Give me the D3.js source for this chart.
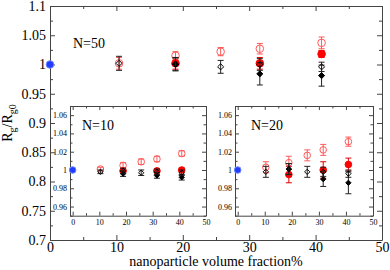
<!DOCTYPE html>
<html>
<head>
<meta charset="utf-8">
<script src="https://cdn.jsdelivr.net/npm/d3@7"></script>
<style>
  body { margin: 0; background: #fff; }
  svg { display: block; font-family: "Liberation Serif", "Times New Roman", serif; }
</style>
</head>
<body>
<svg width="390" height="270"></svg>
<script>
// ---- data ----
var openX   = [10.4, 18.9, 25.7, 31.6, 40.9];
var filledX = [18.9, 31.6, 40.9];

// N=50 (main panel)
var openBlack50   = [1.002, 1.001, 0.996, 1.000, 0.996];
var openBlack50E  = [0.012, 0.011, 0.011, 0.010, 0.008];
var filledBlack50 = [1.000, 0.984, 0.981];
var filledBlack50E= [0.011, 0.019, 0.018];
var openRed50     = [1.002, 1.015, 1.022, 1.027, 1.037];
var openRed50E    = [0.010, 0.007, 0.007, 0.009, 0.010];
var filledRed50   = [1.002, 1.002, 1.018];
var filledRed50E  = [0.010, 0.010, 0.006];

// N=10 inset
var openBlack10   = [0.998, 0.999, 0.997, 0.998, 0.997];
var openBlack10E  = [0.002, 0.003, 0.003, 0.003, 0.003];
var filledBlack10 = [0.996, 0.994, 0.992];
var filledBlack10E= [0.003, 0.003, 0.003];
var openRed10     = [1.001, 1.005, 1.009, 1.012, 1.018];
var openRed10E    = [0.002, 0.003, 0.003, 0.003, 0.003];
var filledRed10   = [0.999, 0.999, 1.000];
var filledRed10E  = [0.002, 0.002, 0.002];

// N=20 inset
var openBlack20   = [0.998, 1.001, 0.998, 0.998, 0.996];
var openBlack20E  = [0.006, 0.006, 0.006, 0.005, 0.004];
var filledBlack20 = [1.001, 0.990, 0.986];
var filledBlack20E= [0.006, 0.008, 0.012];
var openRed20     = [1.003, 1.008, 1.016, 1.022, 1.031];
var openRed20E    = [0.006, 0.007, 0.006, 0.006, 0.005];
var filledRed20   = [0.995, 1.000, 1.006];
var filledRed20E  = [0.009, 0.009, 0.007];

var pureX = [0], pureY = [1.0], pureE = [0.002];

var mainXTicks = [0, 10, 20, 30, 40, 50];
var mainYTicks = [0.7, 0.75, 0.8, 0.85, 0.9, 0.95, 1, 1.05, 1.1];
var insetXTicks = [0, 10, 20, 30, 40, 50];
var insetYTicks = [0.96, 0.98, 1, 1.02, 1.04, 1.06];

var svg = d3.select("svg");
var frameColor = "#444";
var fmt = function(d) { return String(+d.toFixed(2)); };

function panel(o) {
  var x = d3.scaleLinear().domain(o.xDomain).range([o.left, o.right]);
  var y = d3.scaleLinear().domain(o.yDomain).range([o.bottom, o.top]);
  var g = svg.append("g");
  g.append("rect").attr("x", o.left).attr("y", o.top)
    .attr("width", o.right - o.left).attr("height", o.bottom - o.top)
    .attr("fill", "#fff");

  function ax(gen, scale, vals, len, tr, labels, pad) {
    var a = g.append("g").attr("transform", tr)
      .call(gen(scale).tickValues(vals).tickSizeInner(-len).tickSizeOuter(0)
        .tickPadding(pad || 3).tickFormat(labels ? fmt : ""));
    a.selectAll("path,line").attr("stroke", frameColor);
    a.selectAll("text").attr("font-size", o.fontSize).attr("fill", "#000");
    a.attr("font-family", null);
    return a;
  }
  // bottom / top
  ax(d3.axisBottom, x, o.xTicks, o.major, "translate(0," + o.bottom + ")", true, o.xPad);
  ax(d3.axisBottom, x, o.xMinor, o.minor, "translate(0," + o.bottom + ")", false).select(".domain").remove();
  ax(d3.axisTop, x, o.xTicks, o.major, "translate(0," + o.top + ")", false);
  ax(d3.axisTop, x, o.xMinor, o.minor, "translate(0," + o.top + ")", false).select(".domain").remove();
  // left / right
  ax(d3.axisLeft, y, o.yTicks, o.major, "translate(" + o.left + ",0)", true, o.yPad);
  ax(d3.axisLeft, y, o.yMinor, o.minor, "translate(" + o.left + ",0)", false).select(".domain").remove();
  ax(d3.axisRight, y, o.yTicks, o.major, "translate(" + o.right + ",0)", false);
  ax(d3.axisRight, y, o.yMinor, o.minor, "translate(" + o.right + ",0)", false).select(".domain").remove();

  g.append("text").attr("x", o.labelX).attr("y", o.labelY)
    .attr("font-size", 14).text(o.label);

  function errs(xs, ys, es, color) {
    var cap = 3;
    xs.forEach(function(xv, i) {
      var cx = x(xv), y1 = y(ys[i] - es[i]), y2 = y(ys[i] + es[i]);
      g.append("line").attr("x1", cx).attr("x2", cx).attr("y1", y1).attr("y2", y2)
        .attr("stroke", color).attr("stroke-width", 1);
      [y1, y2].forEach(function(yy) {
        g.append("line").attr("x1", cx - cap).attr("x2", cx + cap).attr("y1", yy).attr("y2", yy)
          .attr("stroke", color).attr("stroke-width", 1);
      });
    });
  }
  function circles(xs, ys, r, fill, stroke) {
    g.selectAll(null).data(xs).enter().append("circle")
      .attr("cx", function(d) { return x(d); })
      .attr("cy", function(d, i) { return y(ys[i]); })
      .attr("r", r).attr("fill", fill).attr("stroke", stroke).attr("stroke-width", 1);
  }
  function diamonds(xs, ys, s, fill) {
    g.selectAll(null).data(xs).enter().append("path")
      .attr("d", function(d, i) {
        var cx = x(d), cy = y(ys[i]);
        return "M" + cx + "," + (cy - s) + "L" + (cx + s) + "," + cy + "L" + cx + "," + (cy + s) + "L" + (cx - s) + "," + cy + "Z";
      })
      .attr("fill", fill).attr("stroke", "#000").attr("stroke-width", 1);
  }

  var d = o.data;
  var pink = "#ff5a5a";
  errs(openX, d.openRed, d.openRedE, pink);
  circles(openX, d.openRed, o.r, "none", pink);
  errs(filledX, d.filledRed, d.filledRedE, "#e00000");
  circles(filledX, d.filledRed, o.r, "#ff0000", "#ff0000");
  errs(filledX, d.filledBlack, d.filledBlackE, "#222");
  diamonds(filledX, d.filledBlack, o.r * 0.8, "#000");
  errs(openX, d.openBlack, d.openBlackE, "#222");
  diamonds(openX, d.openBlack, o.r * 0.8, "none");
  errs(pureX, pureY, pureE, "#8fa0ff");
  circles(pureX, pureY, o.r, "#1f3cff", "#6f86ff");
}

// main panel
panel({
  left: 50, right: 382, top: 6, bottom: 240,
  xDomain: [0, 50], yDomain: [0.7, 1.1],
  xTicks: mainXTicks, xMinor: [5, 15, 25, 35, 45],
  yTicks: mainYTicks, yMinor: [0.725, 0.775, 0.825, 0.875, 0.925, 0.975, 1.025, 1.075],
  major: 5, minor: 3, fontSize: 14, xPad: 2, yPad: 4, r: 3.8,
  label: "N=50", labelX: 73, labelY: 48,
  data: { openBlack: openBlack50, openBlackE: openBlack50E, filledBlack: filledBlack50, filledBlackE: filledBlack50E,
          openRed: openRed50, openRedE: openRed50E, filledRed: filledRed50, filledRedE: filledRed50E }
});

// insets
var insetBase = {
  top: 106, bottom: 215.7,
  xDomain: [-1, 50], yDomain: [0.95, 1.07],
  xTicks: insetXTicks, xMinor: [5, 15, 25, 35, 45],
  yTicks: insetYTicks, yMinor: [0.95, 0.97, 0.99, 1.01, 1.03, 1.05, 1.07],
  major: 4, minor: 2.5, fontSize: 8, xPad: 4, yPad: 3, r: 3.3
};
panel(Object.assign({}, insetBase, {
  left: 70, right: 206, label: "N=10", labelX: 82, labelY: 129.5,
  data: { openBlack: openBlack10, openBlackE: openBlack10E, filledBlack: filledBlack10, filledBlackE: filledBlack10E,
          openRed: openRed10, openRedE: openRed10E, filledRed: filledRed10, filledRedE: filledRed10E }
}));
panel(Object.assign({}, insetBase, {
  left: 235, right: 373, label: "N=20", labelX: 251, labelY: 129.5,
  data: { openBlack: openBlack20, openBlackE: openBlack20E, filledBlack: filledBlack20, filledBlackE: filledBlack20E,
          openRed: openRed20, openRedE: openRed20E, filledRed: filledRed20, filledRedE: filledRed20E }
}));

// axis titles
svg.append("text").attr("x", 216).attr("y", 266).attr("text-anchor", "middle")
  .attr("font-size", 14).text("nanoparticle volume fraction%");

var yl = svg.append("text").attr("transform", "translate(12,123) rotate(-90)")
  .attr("text-anchor", "middle").attr("font-size", 14);
yl.append("tspan").text("R");
yl.append("tspan").attr("font-size", 10).attr("dy", 4).text("g");
yl.append("tspan").attr("dy", -4).text("/R");
yl.append("tspan").attr("font-size", 10).attr("dy", 4).text("g0");
</script>
</body>
</html>
